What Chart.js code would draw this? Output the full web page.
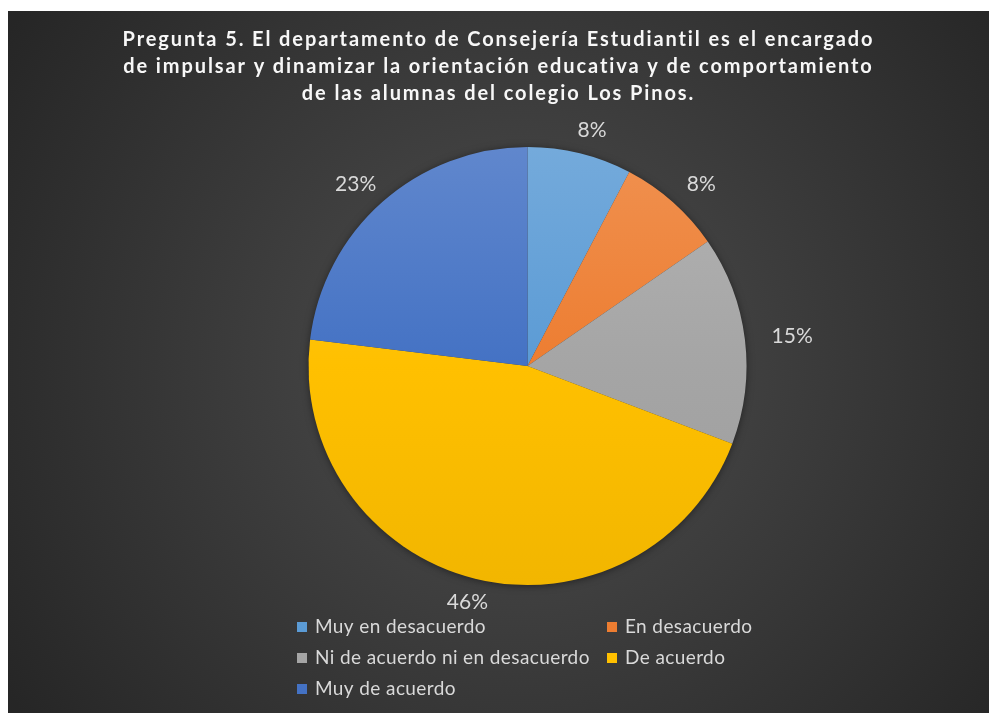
<!DOCTYPE html>
<html>
<head>
<meta charset="utf-8">
<script src="https://cdn.jsdelivr.net/npm/chart.js@4.4.1/dist/chart.umd.min.js"></script>
<style>
  body { margin: 0; background: #fff; }
  #wrap { position: absolute; left: 8px; top: 11px; width: 981px; height: 702px; }
</style>
</head>
<body>
<div id="wrap"><canvas id="pie"></canvas></div>
<script>
// respuestas de la pregunta 5 (conteos, 13 alumnas)
const categories = ["Muy en desacuerdo", "En desacuerdo", "Ni de acuerdo ni en desacuerdo", "De acuerdo", "Muy de acuerdo"];
const counts = [1, 1, 2, 6, 3];
const pctLabels = ["8%", "8%", "15%", "46%", "23%"];
const colors = ["#5b9bd5", "#ed7d31", "#a5a5a5", "#ffc000", "#4472c4"];
const titleLines = [
  "Pregunta 5. El departamento de Consejería Estudiantil es el encargado",
  "de impulsar y dinamizar la orientación educativa y de comportamiento",
  "de las alumnas del colegio Los Pinos."
];

function shade(hex, amt) {
  let n = parseInt(hex.slice(1), 16);
  let r = (n >> 16) & 255, g = (n >> 8) & 255, b = n & 255;
  const f = v => Math.max(0, Math.min(255, Math.round(amt > 0 ? v + (255 - v) * amt : v * (1 + amt))));
  return "rgb(" + f(r) + "," + f(g) + "," + f(b) + ")";
}

// fondo oscuro con degradado radial + titulo centrado en el lienzo
const bgPlugin = {
  id: "bg",
  beforeDraw(chart) {
    const ctx = chart.ctx, w = chart.width, h = chart.height;
    const g = ctx.createRadialGradient(w * 0.52, h * 0.5, 20, w * 0.52, h * 0.5, w * 0.62);
    g.addColorStop(0, "#4d4d4d");
    g.addColorStop(1, "#262626");
    ctx.save();
    ctx.fillStyle = g;
    ctx.fillRect(0, 0, w, h);
    ctx.fillStyle = "#f7f7f7";
    ctx.font = "bold 20px Lato";
    ctx.letterSpacing = "1.9px";
    ctx.textAlign = "center";
    ctx.textBaseline = "middle";
    titleLines.forEach((t, i) => ctx.fillText(t, w / 2, 29 + i * 27));
    ctx.restore();
  },
  beforeDatasetsDraw(chart) {
    const ctx = chart.ctx;
    // sombra suave bajo el pastel
    const arc = chart.getDatasetMeta(0).data[0];
    if (!arc) return;
    ctx.save();
    ctx.shadowColor = "rgba(0,0,0,0.55)";
    ctx.shadowBlur = 8;
    ctx.shadowOffsetY = 1;
    ctx.fillStyle = "#3a3a3a";
    ctx.beginPath();
    ctx.arc(arc.x, arc.y, arc.outerRadius - 1, 0, Math.PI * 2);
    ctx.fill();
    ctx.restore();
  }
};

// etiquetas de porcentaje fuera del pastel
const outLabels = {
  id: "outLabels",
  afterDatasetsDraw(chart) {
    const ctx = chart.ctx;
    const meta = chart.getDatasetMeta(0);
    ctx.save();
    ctx.font = "21px Lato";
    ctx.fillStyle = "#d9d9d9";
    ctx.textAlign = "center";
    ctx.textBaseline = "middle";
    meta.data.forEach((arc, i) => {
      const mid = (arc.startAngle + arc.endAngle) / 2;
      const tw = ctx.measureText(pctLabels[i]).width;
      const r = arc.outerRadius + 24;
      const x = arc.x + Math.cos(mid) * (r + tw / 2) + 3;
      const y = arc.y + Math.sin(mid) * r;
      ctx.fillText(pctLabels[i], x, y);
    });
    ctx.restore();
  }
};

// leyenda en dos columnas
const gridLegend = {
  id: "gridLegend",
  afterDraw(chart) {
    const ctx = chart.ctx;
    const cols = [289, 599];
    const rows = [616, 647, 678];
    ctx.save();
    ctx.font = "19px Lato";
    ctx.letterSpacing = "0.4px";
    ctx.textBaseline = "middle";
    categories.forEach((c, i) => {
      const x = cols[i % 2], y = rows[Math.floor(i / 2)];
      ctx.fillStyle = colors[i];
      ctx.fillRect(x, y - 5, 10, 10);
      ctx.fillStyle = "#d9d9d9";
      ctx.fillText(c, x + 18, y);
    });
    ctx.restore();
  }
};

new Chart(document.getElementById("pie"), {
  type: "pie",
  data: {
    labels: categories,
    datasets: [{
      data: counts,
      backgroundColor: ctx => {
        const area = ctx.chart.chartArea;
        const base = colors[ctx.dataIndex];
        if (!area) return base;
        const g = ctx.chart.ctx.createLinearGradient(0, area.top, 0, area.bottom);
        g.addColorStop(0, shade(base, 0.15));
        g.addColorStop(0.5, base);
        g.addColorStop(1, shade(base, -0.05));
        return g;
      },
      borderWidth: 0
    }]
  },
  options: {
    responsive: true,
    maintainAspectRatio: false,
    animation: false,
    layout: { padding: { left: 58, right: 0, top: 136, bottom: 128 } },
    plugins: {
      legend: { display: false },
      tooltip: { enabled: false },
      title: { display: false }
    }
  },
  plugins: [bgPlugin, outLabels, gridLegend]
});
</script>
</body>
</html>
